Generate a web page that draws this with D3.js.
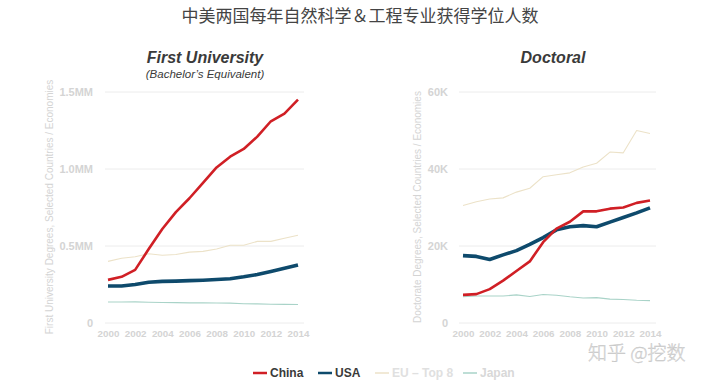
<!DOCTYPE html>
<html><head><meta charset="utf-8">
<script src="https://cdn.jsdelivr.net/npm/d3@7"></script>
<style>body{margin:0;background:#fff;} svg{display:block;}</style>
</head><body>
<svg id="c" width="720" height="383"></svg>
<script>
const years = [2000,2001,2002,2003,2004,2005,2006,2007,2008,2009,2010,2011,2012,2013,2014];
// First University degrees (millions)
const bachChina = [0.28,0.30,0.345,0.48,0.61,0.72,0.81,0.91,1.01,1.08,1.13,1.21,1.31,1.36,1.45];
const bachUSA   = [0.24,0.24,0.25,0.265,0.27,0.272,0.275,0.278,0.282,0.287,0.30,0.315,0.335,0.355,0.377];
const bachEU    = [0.40,0.42,0.43,0.45,0.44,0.445,0.46,0.465,0.48,0.505,0.505,0.53,0.53,0.55,0.57];
const bachJapan = [0.136,0.136,0.137,0.135,0.133,0.132,0.131,0.131,0.13,0.129,0.125,0.124,0.122,0.121,0.12];
// Doctoral degrees (thousands)
const docChina = [7.3,7.5,8.8,11,13.5,16,21,24.5,26.3,29,29,29.7,30,31.2,31.8];
const docUSA   = [17.5,17.3,16.5,17.7,18.8,20.4,22.2,24.2,25,25.3,25,26.2,27.4,28.6,29.9];
const docEU    = [30.5,31.5,32.2,32.5,34,35,38,38.5,39,40.5,41.5,44.4,44.2,50,49.2];
const docJapan = [6.8,7.0,7.0,7.0,7.3,6.9,7.4,7.2,6.8,6.5,6.6,6.2,6.1,5.9,5.8];
const xTicks = [2000,2002,2004,2006,2008,2010,2012,2014];
const bachTicks = [0,0.5,1.0,1.5];
const bachTickLabels = ["0","0.5MM","1.0MM","1.5MM"];
const docTicks = [0,20,40,60];
const docTickLabels = ["0","20K","40K","60K"];
const seriesNames = ["China","USA","EU – Top 8","Japan"];
const colors = ["#d01f25","#0e4a6c","#ece2c8","#a9d3c8"];
const widths = [2.6,3.6,1.1,1.1];

const svg = d3.select("#c");
const font = "'Liberation Sans', Arial, sans-serif";

svg.append("text").attr("x",360).attr("y",22).attr("text-anchor","middle")
  .attr("font-family","'Noto Sans CJK SC', sans-serif").attr("font-size",17).attr("fill","#444")
  .text("中美两国每年自然科学＆工程专业获得学位人数");

function panel(opt){
  const g = svg.append("g");
  const x = d3.scaleLinear().domain([2000,2014]).range([opt.x0,opt.x1]);
  const y = d3.scaleLinear().domain([0,opt.max]).range([323,92]);
  g.selectAll("line.grid").data(opt.ticks).enter().append("line")
    .attr("x1",opt.g0).attr("x2",opt.g1).attr("y1",d=>y(d)).attr("y2",d=>y(d))
    .attr("stroke","#ececec").attr("stroke-width",1);
  const yAxis = d3.axisLeft(y).tickValues(opt.ticks).tickFormat((d,i)=>opt.labels[i]).tickSize(0).tickPadding(0);
  const ya = g.append("g").attr("transform",`translate(${opt.yl},0)`).call(yAxis);
  ya.select(".domain").remove();
  ya.selectAll("text").attr("font-family",font).attr("font-size",11).attr("font-weight","bold").attr("fill","#d4d4d4");
  const xAxis = d3.axisBottom(x).tickValues(xTicks).tickFormat(d3.format("d")).tickSize(0).tickPadding(0);
  const xa = g.append("g").attr("transform","translate(0,330)").call(xAxis);
  xa.select(".domain").remove();
  xa.selectAll("text").attr("font-family",font).attr("font-size",9.8).attr("font-weight","bold").attr("fill","#d4d4d4");
  g.append("text").attr("transform",`translate(${opt.tx},207) rotate(-90)`).attr("text-anchor","middle")
    .attr("font-family",font).attr("font-size",10).attr("fill","#d4d4d4").text(opt.ytitle);
  const line = d3.line().x((d,i)=>x(years[i])).y(d=>y(d));
  [3,2,1,0].forEach(k=>{
    g.append("path").attr("d",line(opt.data[k])).attr("fill","none")
      .attr("stroke",colors[k]).attr("stroke-width",widths[k]).attr("stroke-linejoin","round");
  });
  g.append("text").attr("x",opt.cx).attr("y",63).attr("text-anchor","middle")
    .attr("font-family",font).attr("font-size",16).attr("font-weight","bold").attr("font-style","italic")
    .attr("fill","#3a3a3a").text(opt.title);
  if(opt.sub){
    g.append("text").attr("x",opt.cx).attr("y",78).attr("text-anchor","middle")
      .attr("font-family",font).attr("font-size",11.5).attr("font-style","italic").attr("fill","#3a3a3a").text(opt.sub);
  }
}
panel({x0:108,x1:298,g0:105,g1:304,yl:93,max:1.5,ticks:bachTicks,labels:bachTickLabels,tx:53,
  ytitle:"First University Degrees, Selected Countries / Economies",
  data:[bachChina,bachUSA,bachEU,bachJapan],title:"First University",sub:"(Bachelor’s Equivalent)",cx:205});
panel({x0:463,x1:650,g0:459,g1:656,yl:448,max:60,ticks:docTicks,labels:docTickLabels,tx:421,
  ytitle:"Doctorate Degrees, Selected Countries / Economies",
  data:[docChina,docUSA,docEU,docJapan],title:"Doctoral",cx:553});

const legX = [253,318,375,463];
const legTextColors = ["#3a3a3a","#3a3a3a","#e0e0e0","#d8d8d8"];
const lg = svg.append("g");
seriesNames.forEach((n,i)=>{
  lg.append("line").attr("x1",legX[i]).attr("x2",legX[i]+14).attr("y1",373).attr("y2",373)
    .attr("stroke",colors[i]).attr("stroke-width",i<2?2.5:1.5);
  lg.append("text").attr("x",legX[i]+17).attr("y",377).attr("font-family",font).attr("font-size",12)
    .attr("font-weight","bold").attr("fill",legTextColors[i]).text(n);
});
svg.append("text").attr("x",588).attr("y",360).attr("font-family","'Noto Sans CJK SC', sans-serif")
  .attr("font-size",19).attr("font-weight",300).attr("fill","#e2e2e2").attr("stroke","#bdbdbd").attr("stroke-width",0.35).text("知乎 @挖数");
</script>
</body></html>
